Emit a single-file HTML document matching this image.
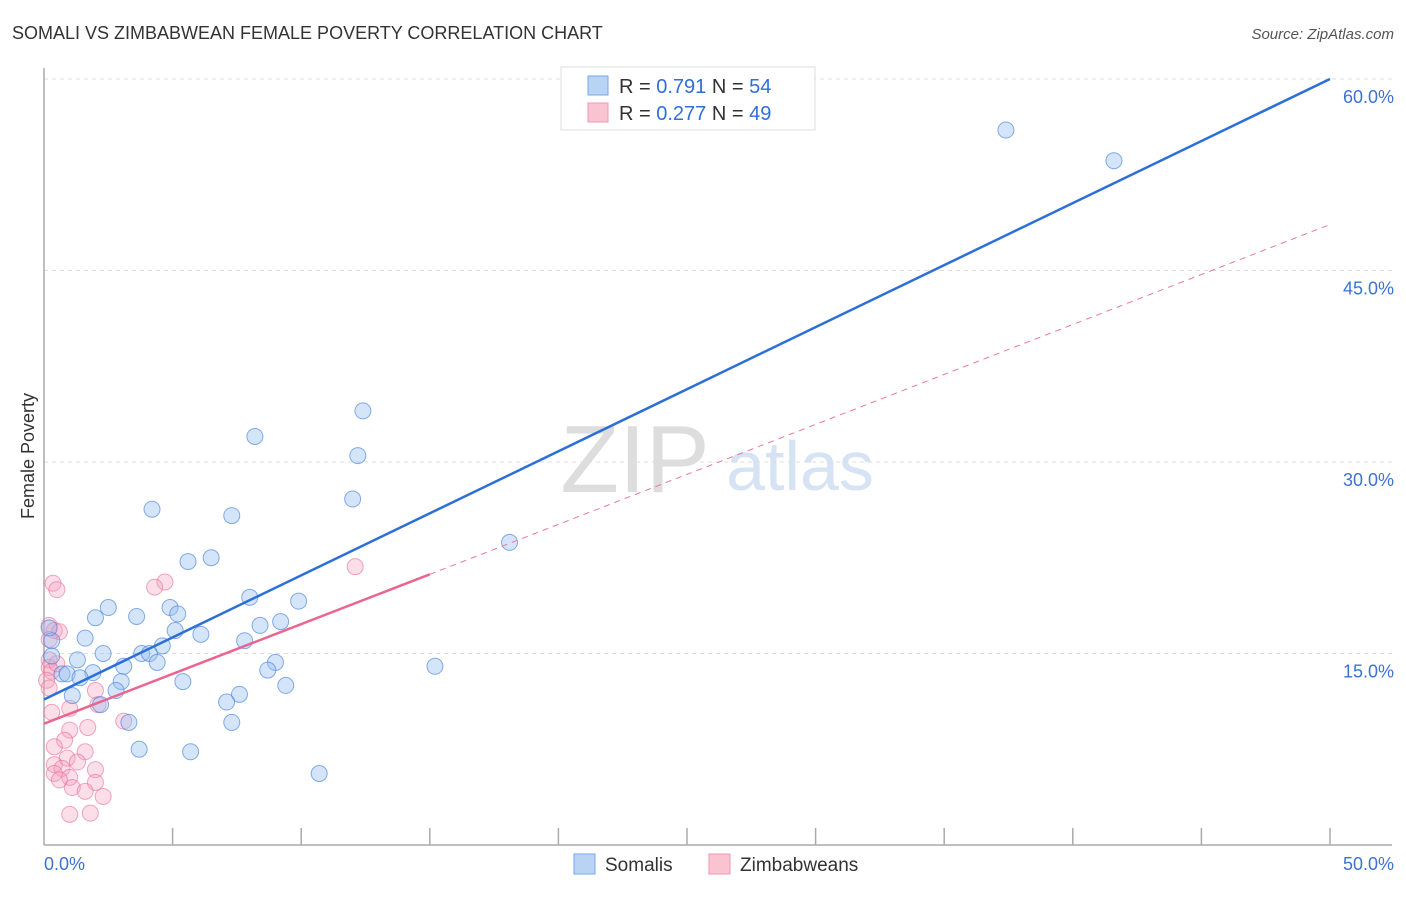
<!DOCTYPE html>
<html><head><meta charset="utf-8"><style>
body{margin:0;background:#fff;font-family:"Liberation Sans",sans-serif;}
svg text{font-family:"Liberation Sans",sans-serif;}
</style></head><body>
<svg width="1406" height="892" xmlns="http://www.w3.org/2000/svg">
<text x="12" y="39" font-size="18" fill="#333">SOMALI VS ZIMBABWEAN FEMALE POVERTY CORRELATION CHART</text>
<text x="1394" y="39" font-size="15" fill="#555" font-style="italic" text-anchor="end">Source: ZipAtlas.com</text>
<text x="34" y="456" font-size="18" fill="#333" transform="rotate(-90 34 456)" text-anchor="middle">Female Poverty</text>
<g>
<text x="635" y="492" font-size="96" fill="#ddd" font-family="Liberation Serif" text-anchor="middle">ZIP</text>
<text x="800" y="490" font-size="70" fill="#d6e3f5" text-anchor="middle">atlas</text>
</g>
<g id="grid"></g>
<line x1="44" y1="68" x2="44" y2="845" stroke="#aaa" stroke-width="1.5"/>
<line x1="44" y1="845" x2="1392" y2="845" stroke="#aaa" stroke-width="1.5"/>
<g id="xticks"></g>
<g id="points"></g>
<g id="lines"></g>
<g>
<rect x="561" y="67" width="254" height="63" fill="#fff" stroke="#ddd"/>
<rect x="588" y="76" width="20" height="19" fill="#b9d3f5" stroke="#7aa6e6"/>
<rect x="588" y="103" width="20" height="19" fill="#f9c3d2" stroke="#ee9ab3"/>
<text x="619" y="93" font-size="20" fill="#333">R = <tspan fill="#2f6fd8">0.791</tspan>   N = <tspan fill="#2f6fd8">54</tspan></text>
<text x="619" y="120" font-size="20" fill="#333">R = <tspan fill="#2f6fd8">0.277</tspan>   N = <tspan fill="#2f6fd8">49</tspan></text>
</g>
<g>
<rect x="574" y="854" width="21" height="20" fill="#b9d3f5" stroke="#7aa6e6"/>
<text x="605" y="871" font-size="19" fill="#333">Somalis</text>
<rect x="709" y="854" width="21" height="20" fill="#f9c3d2" stroke="#ee9ab3"/>
<text x="740" y="871" font-size="19" fill="#333">Zimbabweans</text>
</g>
<text x="44" y="870" font-size="18" fill="#3b73d1">0.0%</text>
<text x="1394" y="870" font-size="18" fill="#3b73d1" text-anchor="end">50.0%</text>
</svg>
<script>
const yTicks=[15,30,45,60];
const yTickLabels=["15.0%","30.0%","45.0%","60.0%"];
const xTickVals=[5,10,15,20,25,30,35,40,45,50];
const somaliX=[37.4,41.6,12.4,8.2,12.2,12.0,4.2,7.3,18.1,6.5,5.6,2.5,8.0,9.9,4.9,5.2,3.6,2.0,9.2,8.4,5.1,6.1,1.6,7.8,4.6,3.8,4.1,2.3,4.4,1.3,0.3,0.3,9.0,15.2,8.7,3.1,1.9,0.7,0.9,1.4,3.0,5.4,9.4,2.8,7.6,1.1,7.1,2.2,3.3,7.3,3.7,5.7,10.7,0.2];
const somaliY=[56.0,53.6,34.0,32.0,30.5,27.1,26.3,25.8,23.7,22.5,22.2,18.6,19.4,19.1,18.6,18.1,17.9,17.8,17.5,17.2,16.8,16.5,16.2,16.0,15.6,15.0,15.0,15.0,14.3,14.5,16.0,14.8,14.3,14.0,13.7,14.0,13.5,13.4,13.4,13.1,12.8,12.8,12.5,12.1,11.8,11.7,11.2,11.0,9.6,9.6,7.5,7.3,5.6,17.0];
const zimX=[0.35,0.5,4.7,4.3,12.1,0.2,0.4,0.6,0.2,0.2,0.2,0.3,0.1,0.2,2.0,2.1,1.0,0.3,3.1,1.7,1.0,0.8,0.4,1.6,0.9,1.3,0.4,0.7,2.0,0.4,1.0,0.6,2.0,1.1,1.6,2.3,1.0,1.8,0.5];
const zimY=[20.5,20.0,20.6,20.2,21.8,17.2,16.8,16.7,16.1,14.5,13.9,13.6,12.9,12.3,12.1,11.0,10.7,10.4,9.7,9.2,9.0,8.2,7.7,7.3,6.8,6.5,6.3,6.0,5.9,5.6,5.3,5.1,4.9,4.5,4.2,3.8,2.4,2.5,14.2];
const somaliLine=[0,11.4,50,60];
const zimLine=[0,9.5,15,21.2,50,48.6];
const sx=v=>44+v*25.72, sy=v=>845-v*12.767;
const NS="http://www.w3.org/2000/svg";
function mk(tag,attrs,parent){const e=document.createElementNS(NS,tag);for(const k in attrs)e.setAttribute(k,attrs[k]);document.getElementById(parent).appendChild(e);return e;}
yTicks.forEach((t,i)=>{
 const l=mk('line',{x1:44,x2:1392,y1:sy(t),y2:sy(t),stroke:'#ddd','stroke-dasharray':'4,4'},'grid');
 
 
 const tx=mk('text',{x:1394,y:sy(t)+24,'font-size':18,fill:'#3b73d1','text-anchor':'end'},'grid');
 tx.textContent=yTickLabels[i];
 
 
});
xTickVals.forEach(v=>{
 const l=mk('line',{x1:sx(v),x2:sx(v),y1:828,y2:845,stroke:'#aaa','stroke-width':1.5},'xticks');
 
 
});
zimX.forEach((x,i)=>{
 const c=mk('circle',{cx:sx(x),cy:sy(zimY[i]),r:8,fill:'rgba(246,160,188,0.35)',stroke:'rgba(232,110,150,0.6)'},'points');
 
 
});
somaliX.forEach((x,i)=>{
 const c=mk('circle',{cx:sx(x),cy:sy(somaliY[i]),r:8,fill:'rgba(150,190,240,0.4)',stroke:'rgba(70,130,220,0.65)'},'points');
 
 
});
const b=mk('line',{x1:sx(somaliLine[0]),y1:sy(somaliLine[1]),x2:sx(somaliLine[2]),y2:sy(somaliLine[3]),stroke:'#2c6fd6','stroke-width':2.5},'lines');


const pd=mk('line',{x1:sx(zimLine[2]),y1:sy(zimLine[3]),x2:sx(zimLine[4]),y2:sy(zimLine[5]),stroke:'#e8799c','stroke-width':1,'stroke-dasharray':'6,5'},'lines');


const p=mk('line',{x1:sx(zimLine[0]),y1:sy(zimLine[1]),x2:sx(zimLine[2]),y2:sy(zimLine[3]),stroke:'#e8668f','stroke-width':2.5},'lines');


</script>
</body></html>
